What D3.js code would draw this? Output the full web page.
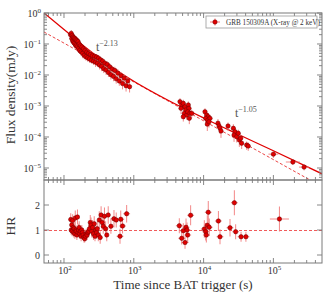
<!DOCTYPE html>
<html>
<head>
<meta charset="utf-8">
<script src="https://cdn.jsdelivr.net/npm/d3@7"></script>
<style>
body { margin: 0; background: #fff; }
svg { display: block; font-family: "Liberation Serif", "DejaVu Serif", serif; }
</style>
</head>
<body>
<div id="chart"></div>
<script>
let width = 330, height = 297;

// flux light curve (t in s, flux in mJy), errors: relative flux, multiplicative time
var fluxT = [124,127,129,131,133,135,137,139,141,143,146,148,150,153,156,159,162,165,168,172,
  176,180,185,190,195,200,206,212,218,225,232,240,248,256,265,274,283,292,302,312,
  323,334,346,358,371,385,400,416,433,451,470,490,512,535,560,590,620,655,690,730,775,820,870,
  4590,4855,4745,5120,5420,5545,5290,5730,6040,6180,5915,6380,6240,5120,6760,
  10470,11070,11670,10720,11460,12360,11300,11950,
  16070,16630,17180,17750,22390,
  26700,28200,27300,29800,31400,32500,35100,34000,
  41400,43600, 100000,190000,275000];
var fluxF = [0.20,0.22,0.15,0.19,0.125,0.17,0.115,0.16,0.105,0.15,0.095,0.14,0.088,0.13,0.082,0.12,0.072,0.10,0.062,0.088,
  0.056,0.08,0.05,0.07,0.043,0.062,0.039,0.055,0.036,0.05,0.033,0.046,0.03,0.042,0.028,0.04,0.026,0.038,0.024,0.035,
  0.021,0.031,0.019,0.028,0.016,0.024,0.0145,0.022,0.012,0.0185,0.0102,0.0155,0.009,0.014,0.0075,0.0115,0.0064,0.0095,0.0053,0.0079,0.0045,0.0064,0.0042,
  1.38e-3,1.08e-3,8.4e-4,1.22e-3,9.5e-4,7.4e-4,5.8e-4,5.1e-4,1.08e-3,8.4e-4,6.5e-4,5.8e-4,4.0e-4,4.5e-4,5.8e-4,
  6.5e-4,5.1e-4,4.5e-4,4.0e-4,3.5e-4,4.0e-4,2.6e-4,3.1e-4,
  2.8e-4,2.26e-4,1.95e-4,1.56e-4,2.26e-4,
  1.91e-4,1.48e-4,1.16e-4,1.02e-4,1.32e-4,8.0e-5,6.3e-5,9.1e-5,
  5.5e-5,5.1e-5, 2.8e-5,1.56e-5,1.07e-5];
var fluxDF = [0.25,0.28,0.22,0.3,0.25,0.22,0.28,0.25,0.3,0.22,0.25,0.28,0.25,0.22,0.3,0.25,0.28,0.25,0.22,0.25,
  0.28,0.25,0.3,0.22,0.25,0.28,0.25,0.22,0.25,0.3,0.25,0.28,0.22,0.25,0.25,0.28,0.3,0.25,0.22,0.25,
  0.28,0.25,0.3,0.25,0.28,0.25,0.3,0.25,0.28,0.3,0.3,0.28,0.3,0.32,0.3,0.35,0.3,0.32,0.35,0.3,0.35,0.32,0.35,
  0.3,0.3,0.35,0.3,0.3,0.35,0.35,0.3,0.3,0.35,0.3,0.35,0.35,0.3,0.3,
  0.3,0.35,0.3,0.35,0.3,0.3,0.4,0.35,
  0.35,0.3,0.35,0.4,0.3,
  0.35,0.3,0.4,0.35,0.3,0.4,0.35,0.3,
  0.3,0.3, 0.25,0.2,0.22];
var fluxDT = [1.03,1.03,1.03,1.03,1.03,1.03,1.03,1.03,1.03,1.03,1.03,1.03,1.03,1.03,1.03,1.03,1.03,1.03,1.03,1.03,
  1.03,1.03,1.03,1.03,1.03,1.03,1.03,1.03,1.03,1.03,1.03,1.03,1.03,1.03,1.03,1.03,1.03,1.03,1.03,1.03,
  1.03,1.03,1.03,1.03,1.03,1.03,1.03,1.03,1.03,1.03,1.04,1.04,1.04,1.04,1.04,1.04,1.04,1.05,1.05,1.05,1.05,1.05,1.05,
  1.03,1.03,1.03,1.03,1.03,1.03,1.03,1.03,1.03,1.03,1.03,1.03,1.03,1.03,1.03,
  1.03,1.03,1.03,1.03,1.03,1.03,1.03,1.03,
  1.03,1.03,1.03,1.03,1.05,
  1.03,1.03,1.03,1.03,1.03,1.03,1.03,1.03,
  1.04,1.04, 1.18,1.26,1.18];

// hardness ratio
var hrT = [125,127,129,131,133,136,138,140,143,145,148,150,153,156,159,162,165,168,172,176,
  180,184,188,193,198,203,208,214,220,226,232,238,244,250,257,264,271,278,285,293,
  300,310,320,330,340,352,365,380,395,410,430,470,520,560,635,650,690,790,
  4490,4855,5120,5420,5600,5790,5915,6520,
  10240,10720,10960,11300,11670,12050,16300,17180,23900,27600,28800,34400,40400,122000];
var hrV = [1.42,1.0,1.2,0.95,1.38,1.1,0.9,1.05,0.85,1.48,1.0,0.95,0.8,1.52,0.9,1.0,1.1,0.85,0.95,0.75,
  1.0,0.9,0.8,0.7,0.65,0.75,0.85,0.8,0.9,0.95,1.05,1.3,1.2,0.95,1.1,0.85,1.25,0.75,1.0,0.9,
  1.05,0.8,1.4,0.7,1.6,1.3,1.15,1.55,1.05,0.8,1.6,1.15,1.45,1.4,0.75,1.43,1.16,1.65,
  1.17,0.67,0.97,0.5,1.11,1.0,0.8,1.59,
  1.04,0.93,0.8,1.19,1.71,1.11,1.36,0.73,1.09,2.09,0.93,0.73,0.73,1.44];
var hrE = [0.25,0.2,0.25,0.2,0.25,0.2,0.2,0.25,0.2,0.3,0.2,0.2,0.2,0.3,0.2,0.25,0.25,0.2,0.2,0.2,
  0.2,0.2,0.2,0.2,0.15,0.2,0.2,0.2,0.2,0.25,0.25,0.3,0.3,0.25,0.3,0.25,0.3,0.2,0.25,0.25,
  0.3,0.25,0.35,0.25,0.35,0.3,0.3,0.35,0.3,0.25,0.35,0.3,0.35,0.3,0.3,0.35,0.3,0.35,
  0.3,0.25,0.3,0.25,0.35,0.3,0.3,0.4,
  0.35,0.35,0.3,0.4,0.45,0.35,0.4,0.3,0.35,0.5,0.3,0.2,0.2,0.5];
var hrDT = hrT.map(t => t > 1e5 ? 1.37 : (t > 500 ? 1.12 : 1.03));

// fitted models
var fitT = [51.7,100,200,500,1000,3000,10000,30000,100000,497000];
var fitF = [1.0,0.295,0.080,0.0172,0.0063,1.59e-3,4.1e-4,1.27e-4,3.6e-5,6.5e-6];
var plT = [51.7, 497000];
var plF = [0.244, 2.5e-6];
var hrMean = 1.02;

var xTickLabels = [100, 1000, 10000, 100000];
var yTickLabels = [0, -1, -2, -3, -4, -5];
var hrTickLabels = [0, 1, 2];

var left = 44, right = 322, top1 = 13, bot1 = 180, bot2 = 263;
var red = "#e00000", errCol = "#f27a7a", axCol = "#7a7a7a", txtCol = "#333";

var svg = d3.select("#chart").append("svg").attr("width", width).attr("height", height);

var x = d3.scaleLog().domain([51.7, 497000]).range([left, right]);
var y = d3.scaleLog().domain([4.1e-6, 1]).range([bot1, top1]);
var yh = d3.scaleLinear().domain([-0.32, 3.0]).range([bot2, bot1]);

svg.append("clipPath").attr("id", "c1").append("rect")
  .attr("x", left).attr("y", top1).attr("width", right - left).attr("height", bot1 - top1);
svg.append("clipPath").attr("id", "c2").append("rect")
  .attr("x", left).attr("y", bot1).attr("width", right - left).attr("height", bot2 - bot1);

// ---- top panel
var g1 = svg.append("g").attr("clip-path", "url(#c1)");
var line = d3.line().x(d => x(d[0])).y(d => y(d[1])).curve(d3.curveMonotoneX);
g1.append("path").attr("d", line(d3.zip(plT, plF)))
  .attr("fill", "none").attr("stroke", "#e83030").attr("stroke-width", 0.9).attr("stroke-dasharray", "3,2");
g1.append("path").attr("d", line(d3.zip(fitT, fitF)))
  .attr("fill", "none").attr("stroke", red).attr("stroke-width", 1.3);

var fluxPts = fluxT.map((t, i) => ({t: t, f: fluxF[i], df: fluxDF[i], dt: fluxDT[i]}));
var eb = g1.append("g").attr("stroke", errCol).attr("stroke-width", 0.9);
fluxPts.forEach(function(d) {
  eb.append("line").attr("x1", x(d.t)).attr("x2", x(d.t))
    .attr("y1", y(d.f * (1 + d.df))).attr("y2", y(d.f * (1 - d.df)));
  eb.append("line").attr("x1", x(d.t / d.dt)).attr("x2", x(d.t * d.dt))
    .attr("y1", y(d.f)).attr("y2", y(d.f));
});
g1.selectAll("circle.fl").data(fluxPts).enter().append("circle")
  .attr("cx", d => x(d.t)).attr("cy", d => y(d.f)).attr("r", 2.2)
  .attr("fill", red).attr("stroke", "#6a0000").attr("stroke-width", 0.5);

// ---- bottom panel
var g2 = svg.append("g").attr("clip-path", "url(#c2)");
g2.append("line").attr("x1", left).attr("x2", right).attr("y1", Math.round(yh(hrMean)) + 0.5).attr("y2", Math.round(yh(hrMean)) + 0.5)
  .attr("stroke", "#f05a5a").attr("stroke-width", 1).attr("stroke-dasharray", "3,2");
var hrPts = hrT.map((t, i) => ({t: t, v: hrV[i], e: hrE[i], dt: hrDT[i]}));
var eb2 = g2.append("g").attr("stroke", errCol).attr("stroke-width", 0.9);
hrPts.forEach(function(d) {
  eb2.append("line").attr("x1", x(d.t)).attr("x2", x(d.t))
    .attr("y1", yh(d.v + d.e)).attr("y2", yh(d.v - d.e));
  eb2.append("line").attr("x1", x(d.t / d.dt)).attr("x2", x(d.t * d.dt))
    .attr("y1", yh(d.v)).attr("y2", yh(d.v));
});
g2.selectAll("circle.hr").data(hrPts).enter().append("circle")
  .attr("cx", d => x(d.t)).attr("cy", d => yh(d.v)).attr("r", 2.2)
  .attr("fill", red).attr("stroke", "#6a0000").attr("stroke-width", 0.5);

// ---- frames and ticks
var ax = svg.append("g").attr("stroke", axCol).attr("fill", "none");
ax.append("rect").attr("x", left).attr("y", top1).attr("width", right - left).attr("height", bot1 - top1).attr("stroke-width", 1);
ax.append("rect").attr("x", left).attr("y", bot1).attr("width", right - left).attr("height", bot2 - bot1).attr("stroke-width", 1);

function isMajor(v) { var l = Math.log10(v); return Math.abs(l - Math.round(l)) < 1e-6; }

x.ticks().forEach(function(v) {
  var len = isMajor(v) ? 5 : 3, px = x(v);
  [[top1, 1], [bot1, -1], [bot1, 1], [bot2, -1]].forEach(function(p) {
    ax.append("line").attr("x1", px).attr("x2", px).attr("y1", p[0]).attr("y2", p[0] + p[1] * len).attr("stroke-width", 0.9);
  });
});
y.ticks().forEach(function(v) {
  var len = isMajor(v) ? 5 : 3, py = y(v);
  ax.append("line").attr("x1", left).attr("x2", left + len).attr("y1", py).attr("y2", py).attr("stroke-width", 0.9);
  ax.append("line").attr("x1", right).attr("x2", right - len).attr("y1", py).attr("y2", py).attr("stroke-width", 0.9);
});
hrTickLabels.forEach(function(v) {
  var py = yh(v);
  ax.append("line").attr("x1", left).attr("x2", left + 5).attr("y1", py).attr("y2", py).attr("stroke-width", 0.9);
  ax.append("line").attr("x1", right).attr("x2", right - 5).attr("y1", py).attr("y2", py).attr("stroke-width", 0.9);
});

// ---- tick labels
var lab = svg.append("g").attr("fill", txtCol);
xTickLabels.forEach(function(v) {
  var t = lab.append("text").attr("x", x(v) + 1).attr("y", 274).attr("text-anchor", "middle").attr("font-size", 10);
  t.append("tspan").text("10");
  t.append("tspan").attr("dy", -4).attr("font-size", 7).text(Math.round(Math.log10(v)));
});
yTickLabels.forEach(function(e) {
  var t = lab.append("text").attr("x", 41).attr("y", y(Math.pow(10, e)) + 4).attr("text-anchor", "end").attr("font-size", 10);
  t.append("tspan").text("10");
  t.append("tspan").attr("dy", -4).attr("font-size", 7).text(e === 0 ? "0" : "\u2212" + (-e));
});
hrTickLabels.forEach(function(v) {
  lab.append("text").attr("x", 40).attr("y", yh(v) + 3.5).attr("text-anchor", "end").attr("font-size", 10).text(v);
});

// ---- axis titles
lab.append("text").attr("transform", "translate(15,95) rotate(-90)").attr("text-anchor", "middle")
  .attr("font-size", 13.5).text("Flux density(mJy)");
lab.append("text").attr("transform", "translate(15,226) rotate(-90)").attr("text-anchor", "middle")
  .attr("font-size", 13.5).text("HR");
lab.append("text").attr("x", 183).attr("y", 289).attr("text-anchor", "middle")
  .attr("font-size", 13).text("Time since BAT trigger (s)");

// ---- power-law annotations
function powLabel(px, py, ex) {
  var t = svg.append("text").attr("x", px).attr("y", py).attr("fill", "#555").attr("font-size", 12);
  t.append("tspan").text("t");
  t.append("tspan").attr("dy", -5).attr("font-size", 8).text("\u2212" + ex);
}
powLabel(96, 51, "2.13");
powLabel(235, 117, "1.05");

// ---- legend
var lg = svg.append("g");
lg.append("rect").attr("x", 206).attr("y", 16).attr("width", 111).attr("height", 12)
  .attr("fill", "#fff").attr("stroke", "#999").attr("stroke-width", 0.8);
lg.append("line").attr("x1", 210).attr("x2", 220).attr("y1", 22).attr("y2", 22).attr("stroke", errCol);
lg.append("line").attr("x1", 215).attr("x2", 215).attr("y1", 18.5).attr("y2", 25.5).attr("stroke", errCol);
lg.append("circle").attr("cx", 215).attr("cy", 22).attr("r", 2.2).attr("fill", red).attr("stroke", "#6a0000").attr("stroke-width", 0.5);
lg.append("text").attr("x", 226).attr("y", 24.5).attr("font-size", 7.2).attr("fill", txtCol)
  .text("GRB 150309A (X-ray @ 2 keV)");
</script>
</body>
</html>
